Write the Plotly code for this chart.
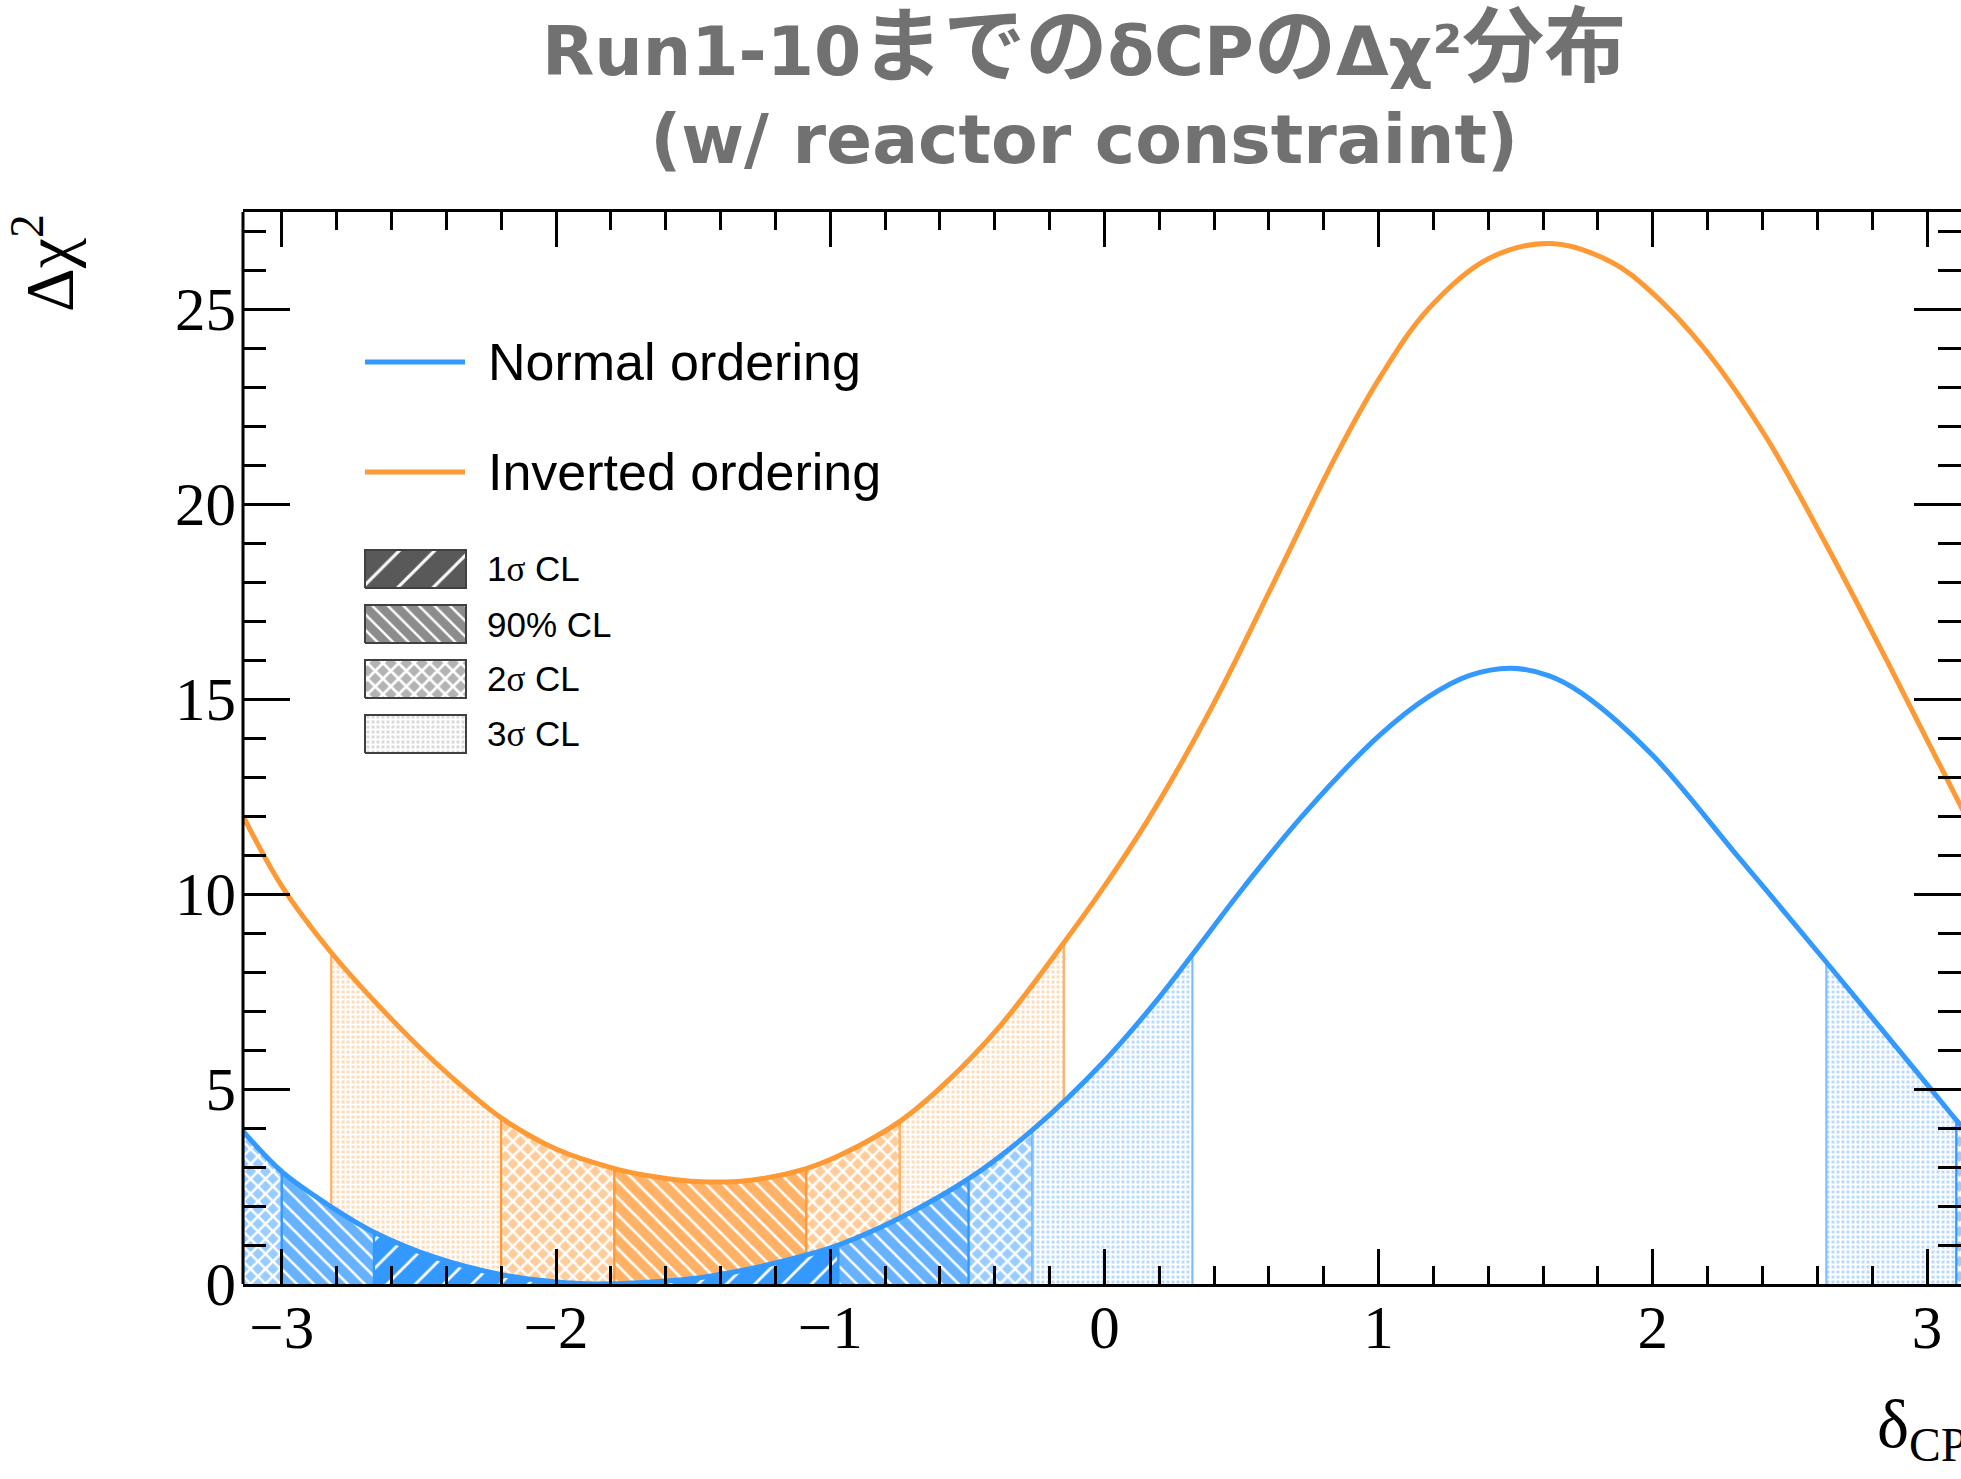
import plotly.graph_objects as go

PI = 3.14159265

# ---------------- data ----------------
# Normal ordering: delta_CP and delta chi^2
no_x = [-PI, -3.0, -2.82, -2.664, -2.44, -2.2, -2.0, -1.85, -1.7, -1.5, -1.3, -1.1, -0.97,
        -0.75, -0.495, -0.262, 0.0, 0.2, 0.321, 0.511, 0.734, 1.0, 1.18, 1.33, 1.48, 1.62,
        1.74, 2.0, 2.3, 2.633, 2.856, 3.0, 3.107, PI]
no_y = [3.92, 2.88, 1.98, 1.33, 0.68, 0.24, 0.05, 0.0, 0.03, 0.14, 0.38, 0.72, 1.0,
        1.68, 2.70, 3.95, 5.72, 7.35, 8.45, 10.20, 12.10, 14.05, 15.05, 15.60, 15.79, 15.60,
        15.15, 13.55, 11.05, 8.25, 6.35, 5.12, 4.20, 3.92]

# Inverted ordering
io_x = [-PI, -3.0, -2.82, -2.615, -2.44, -2.2, -2.0, -1.787, -1.64, -1.47, -1.29, -1.087,
        -0.95, -0.746, -0.58, -0.38, -0.148, 0.0, 0.176, 0.4, 0.622, 0.845, 1.0, 1.18, 1.40,
        1.628, 1.85, 2.0, 2.186, 2.41, 2.633, 2.856, 3.0, PI]
io_y = [12.0, 10.2, 8.5, 6.9, 5.68, 4.26, 3.46, 2.96, 2.75, 2.62, 2.66, 2.96,
        3.35, 4.17, 5.15, 6.62, 8.75, 10.2, 12.1, 14.9, 18.05, 21.24, 23.19, 24.99, 26.29,
        26.68, 26.2, 25.4, 24.0, 21.75, 18.95, 15.95, 13.95, 12.0]

# confidence-level intervals (start, end, level)
no_intervals = [(-PI, -3.0, "2s"), (-3.0, -2.664, "90"), (-2.664, -0.97, "1s"),
                (-0.97, -0.495, "90"), (-0.495, -0.262, "2s"), (-0.262, 0.321, "3s"),
                (2.633, 3.107, "3s"), (3.107, PI, "2s")]
io_intervals = [(-2.82, -2.2, "3s"), (-2.2, -1.787, "2s"), (-1.787, -1.087, "90"),
                (-1.087, -0.746, "2s"), (-0.746, -0.148, "3s")]

cl_levels = ["1s", "90", "2s", "3s"]
cl_labels = ["1σ CL", "90% CL", "2σ CL", "3σ CL"]
series_names = ["Normal ordering", "Inverted ordering"]
title_lines = ["Run1-10までのδCPのΔχ²分布", "(w/ reactor constraint)"]

x_ticks = [-3, -2, -1, 0, 1, 2, 3]
y_ticks = [0, 5, 10, 15, 20, 25]

# ---------------- styles ----------------
BLUE = "#3399ff"
ORANGE = "#ff9933"
NO_STYLE = {
    "1s": dict(shape="/", bg="#3399ff", fg="white", size=20, sol=0.14, edge="#3399ff"),
    "90": dict(shape="\\", bg="#66b2ff", fg="white", size=12, sol=0.22, edge="#3399ff"),
    "2s": dict(shape="x", bg="#99ccff", fg="white", size=10.6, sol=0.42, edge="#3399ff"),
    "3s": dict(shape="+", bg="#b8daff", fg="white", size=5, sol=0.64, edge="#80bfff"),
}
IO_STYLE = {
    "1s": dict(shape="/", bg="#ff9933", fg="white", size=20, sol=0.14, edge="#ff9933"),
    "90": dict(shape="\\", bg="#ffb266", fg="white", size=12, sol=0.22, edge="#ff9933"),
    "2s": dict(shape="x", bg="#ffcc99", fg="white", size=10.6, sol=0.42, edge="#ff9933"),
    "3s": dict(shape="+", bg="#ffdab5", fg="white", size=5, sol=0.64, edge="#ffb266"),
}
LEG_STYLE = {
    "1s": dict(shape="/", bg="#595959", fg="white", size=25, sol=0.12),
    "90": dict(shape="\\", bg="#8c8c8c", fg="white", size=11, sol=0.22),
    "2s": dict(shape="x", bg="#b3b3b3", fg="white", size=11, sol=0.42),
    "3s": dict(shape="+", bg="#dadada", fg="white", size=5, sol=0.64),
}

W, H = 1961, 1479
L, R, T, B = 243, 0, 212, 195
PW, PH = W - L - R, H - T - B
X_MAX = -PI + PW / 274.2
Y_MAX = PH / 39.0


def px2paper_x(px):
    return (px - L) / PW


def px2paper_y(py):
    return (H - B - py) / PH


def style_title(s):
    # CJK glyphs drawn a bit larger, as in the reference
    out = []
    for ch in s:
        if ord(ch) > 0x3000:
            out.append("<span style='font-size:82px'>" + ch + "</span>")
        else:
            out.append(ch)
    return "".join(out)


def style_sigma(s):
    return s.replace("σ", "<span style='font-family:Liberation Serif'>σ</span>")


fig = go.Figure()


def add_regions(xs, ys, intervals, styles):
    for a, b, lev in intervals:
        idx = [i for i, v in enumerate(xs) if a - 1e-9 <= v <= b + 1e-9]
        px = [a] + [xs[i] for i in idx] + [b]
        py = [0] + [ys[i] for i in idx] + [0]
        st = styles[lev]
        fig.add_trace(go.Scatter(
            x=px, y=py, mode="lines", fill="toself",
            line=dict(color=st["edge"], width=2.2),
            fillcolor=st["bg"],
            fillpattern=dict(shape=st["shape"], bgcolor=st["bg"], fgcolor=st["fg"],
                             size=st["size"], solidity=st["sol"], fillmode="replace"),
            hoverinfo="skip", showlegend=False))


add_regions(io_x, io_y, io_intervals, IO_STYLE)
add_regions(no_x, no_y, no_intervals, NO_STYLE)

fig.add_trace(go.Scatter(x=io_x, y=io_y, mode="lines", name=series_names[1],
                         line=dict(color=ORANGE, width=5, shape="spline", smoothing=1.0),
                         showlegend=False))
fig.add_trace(go.Scatter(x=no_x, y=no_y, mode="lines", name=series_names[0],
                         line=dict(color=BLUE, width=5, shape="spline", smoothing=1.0),
                         showlegend=False))

# ---------------- custom legend ----------------
annotations = []
shapes = []
leg_line_y = [362, 472]
for name, color, ly in zip(series_names, [BLUE, ORANGE], leg_line_y):
    shapes.append(dict(type="line", xref="paper", yref="paper",
                       x0=px2paper_x(365), x1=px2paper_x(465),
                       y0=px2paper_y(ly), y1=px2paper_y(ly),
                       line=dict(color=color, width=5)))
    annotations.append(dict(text=name, xref="paper", yref="paper",
                            x=px2paper_x(486), y=px2paper_y(ly), xanchor="left",
                            yanchor="middle", showarrow=False,
                            font=dict(family="Liberation Sans", size=52, color="black")))

box_tops = [550, 605, 660, 715]
box_h = 38
for lev, lab, top in zip(cl_levels, cl_labels, box_tops):
    st = LEG_STYLE[lev]
    x0, x1 = px2paper_x(365), px2paper_x(466)
    y0, y1 = px2paper_y(top + box_h), px2paper_y(top)
    fig.add_trace(go.Scatter(
        x=[x0, x1, x1, x0, x0], y=[y0, y0, y1, y1, y0], xaxis="x2", yaxis="y2",
        mode="lines", fill="toself", line=dict(color="#404040", width=2),
        fillcolor=st["bg"],
        fillpattern=dict(shape=st["shape"], bgcolor=st["bg"], fgcolor=st["fg"],
                         size=st["size"], solidity=st["sol"], fillmode="replace"),
        hoverinfo="skip", showlegend=False))
    annotations.append(dict(text=style_sigma(lab), xref="paper", yref="paper",
                            x=px2paper_x(485), y=px2paper_y(top + box_h / 2),
                            xanchor="left", yanchor="middle", showarrow=False,
                            font=dict(family="Liberation Sans", size=35, color="black")))

# title
annotations.append(dict(text="<br>".join(style_title(t) for t in title_lines),
                        xref="paper", yref="paper",
                        x=px2paper_x(1084), y=px2paper_y(89), xanchor="center",
                        yanchor="middle", showarrow=False,
                        font=dict(family="DejaVu Sans, Noto Sans CJK JP", size=68,
                                  color="#717171", weight="bold")))

# axis titles
annotations.append(dict(text="Δχ<sup>2</sup>", xref="paper", yref="paper",
                        x=px2paper_x(44), y=1.0, xanchor="center", yanchor="top",
                        textangle=-90, showarrow=False,
                        font=dict(family="Liberation Serif", size=68, color="black")))
annotations.append(dict(text="δ<sub>CP</sub>", xref="paper", yref="paper",
                        x=1.0, xshift=8, y=px2paper_y(1428), xanchor="right",
                        yanchor="middle", showarrow=False,
                        font=dict(family="Liberation Serif", size=68, color="black")))

# left frame line (drawn manually so no line appears at the clipped right edge)
shapes.append(dict(type="line", xref="paper", yref="paper", x0=0, x1=0, y0=0, y1=1,
                   line=dict(color="black", width=3)))

tickfont = dict(family="Liberation Serif", size=61, color="black")

fig.update_layout(
    width=W, height=H,
    margin=dict(l=L, r=R, t=T, b=B, pad=0),
    paper_bgcolor="white", plot_bgcolor="white",
    showlegend=False,
    xaxis=dict(range=[-PI, X_MAX], showgrid=False, zeroline=False,
               showline=True, linecolor="black", linewidth=3, mirror="ticks",
               ticks="inside", ticklen=35, tickwidth=2.5, tickcolor="black",
               tickvals=x_ticks,
               ticktext=[("−" + str(-v)) if v < 0 else str(v) for v in x_ticks],
               minor=dict(dtick=0.2, tick0=0, ticks="inside", ticklen=18, tickwidth=2.5,
                          tickcolor="black", showgrid=False),
               tickfont=tickfont, ticklabelstandoff=-12, fixedrange=True),
    yaxis=dict(range=[0, Y_MAX], showgrid=False, zeroline=False,
               showline=False, mirror="ticks",
               ticks="inside", ticklen=47, tickwidth=2.5, tickcolor="black",
               tickvals=y_ticks,
               minor=dict(dtick=1, tick0=0, ticks="inside", ticklen=23, tickwidth=2.5,
                          tickcolor="black", showgrid=False),
               tickfont=tickfont, ticklabelstandoff=6, fixedrange=True),
    xaxis2=dict(overlaying="x", range=[0, 1], visible=False, fixedrange=True),
    yaxis2=dict(overlaying="y", range=[0, 1], visible=False, fixedrange=True),
    annotations=annotations,
    shapes=shapes,
)

fig.write_html("out.html")
